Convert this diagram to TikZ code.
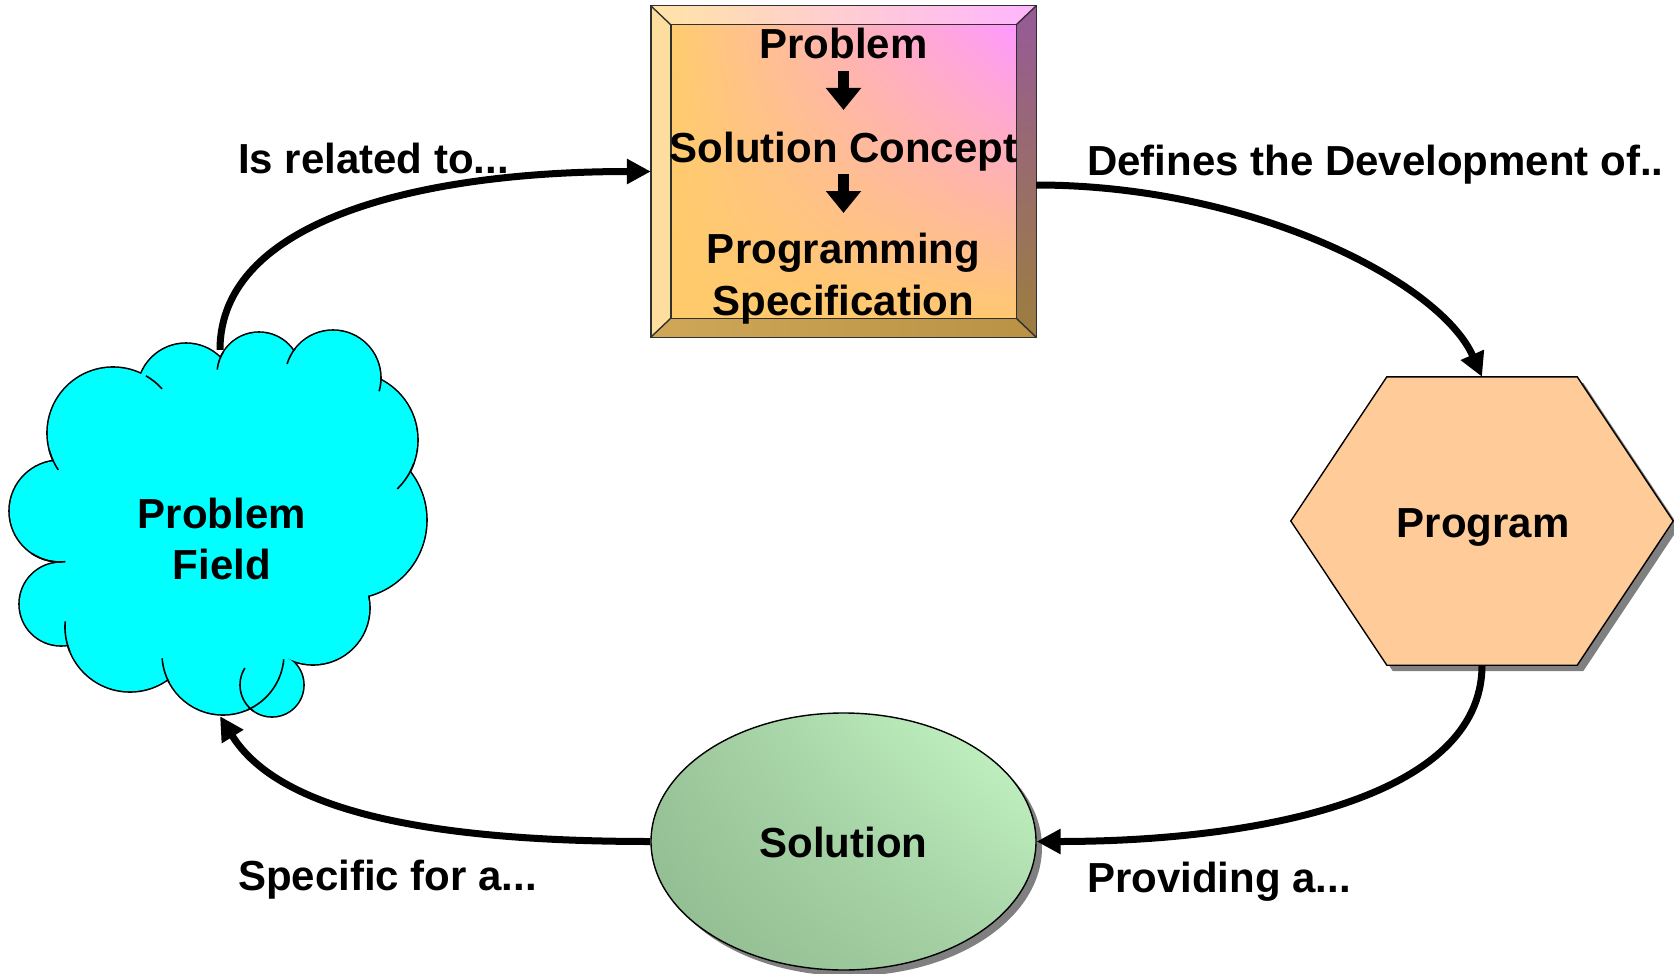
\documentclass[tikz,border=0pt]{standalone}
\usepackage{fontspec}
\setmainfont{Liberation Sans}
\usetikzlibrary{arrows.meta, calc, shapes.geometric, shadows, shadings}

\definecolor{cloudcyan}{HTML}{00FFFF}
\definecolor{hexfill}{HTML}{FFCC99}
\definecolor{shadowgray}{HTML}{808080}
\definecolor{bevtopL}{HTML}{FFE4A6}
\definecolor{bevtopR}{HTML}{FFB5FF}
\definecolor{bevleft}{HTML}{FEDE9F}
\definecolor{bevrightT}{HTML}{965A98}
\definecolor{bevrightB}{HTML}{9C7E3E}
\definecolor{bevbotL}{HTML}{CFA757}
\definecolor{bevbotR}{HTML}{B99245}
\definecolor{specUL}{HTML}{FFCC6E}
\definecolor{specUR}{HTML}{FF99FF}
\definecolor{specLL}{HTML}{FFCA6A}
\definecolor{specLR}{HTML}{FFC870}
\definecolor{solUL}{HTML}{9CC79C}
\definecolor{solUR}{HTML}{C8FAC8}
\definecolor{solLL}{HTML}{8FBA8F}
\definecolor{solLR}{HTML}{A6D2A6}
\definecolor{edgegray}{HTML}{303030}

\begin{document}
\begin{tikzpicture}[x=1pt, y=-1pt,
  lbl/.style={font=\bfseries\fontsize{42}{50}\selectfont, inner sep=0pt, text=black},
  holder/.style={rectangle, inner sep=0pt},
  conn/.style={line width=7pt, -{Triangle[length=24pt, width=24pt]}},
  innerarrow/.style={line width=11pt, -{Triangle[length=22pt, width=34pt]}},
  cloudline/.style={line width=1.6pt, black},
  boxline/.style={line width=1.4pt, edgegray},
  softshadow/.style={drop shadow={shadow xshift=6pt, shadow yshift=-6pt, fill=shadowgray, opacity=1}}
]
\fill[white] (0,0) rectangle (1674,974);
\useasboundingbox (0,0) rectangle (1674,974);

% ---------- bevelled specification box ----------
\node[holder, minimum width=385pt, minimum height=331pt] (spec) at (843.5,171.5) {};
\coordinate (oa) at (spec.north west);
\coordinate (ob) at (spec.north east);
\coordinate (oc) at (spec.south east);
\coordinate (od) at (spec.south west);
\coordinate (ia) at ($(oa)+(20,19)$);
\coordinate (ib) at ($(ob)+(-20,19)$);
\coordinate (ic) at ($(oc)+(-20,-19)$);
\coordinate (id) at ($(od)+(20,-19)$);
\shade[left color=bevtopL, right color=bevtopR] (oa) -- (ob) -- (ib) -- (ia) -- cycle;
\fill[bevleft] (oa) -- (ia) -- (id) -- (od) -- cycle;
\shade[top color=bevrightT, bottom color=bevrightB] (ob) -- (oc) -- (ic) -- (ib) -- cycle;
\shade[left color=bevbotL, right color=bevbotR] (od) -- (id) -- (ic) -- (oc) -- cycle;
\shade[upper left=specUL, upper right=specUR, lower left=specLL, lower right=specLR] (ia) rectangle (ic);
\draw[boxline] (oa) rectangle (oc);
\draw[boxline] (ia) rectangle (ic);
\draw[boxline] (oa) -- (ia) (ob) -- (ib) (oc) -- (ic) (od) -- (id);

\node[lbl, anchor=base] (t1) at (843.5,59) {Problem};
\node[lbl, anchor=base] (t2) at (843.5,162) {Solution Concept};
\node[lbl, anchor=base] (t3) at (843.5,263) {Programming};
\node[lbl, anchor=base] (t4) at (843.5,315) {Specification};
\coordinate (d1a) at (843.5,71);
\coordinate (d1b) at (843.5,110);
\coordinate (d2a) at (843.5,174);
\coordinate (d2b) at (843.5,213);
\draw[innerarrow] (d1a) -- (d1b);
\draw[innerarrow] (d2a) -- (d2b);

% ---------- cloud (problem field) ----------
\node[holder, minimum width=420pt, minimum height=366pt] (field) at (220,533) {};
\def\puffs{113/433/66, 186/392/49, 259/374/42, 333/378/48, 350/440/68, 348/520/79, 313/608/57, 272/685/32, 223/654/61, 130/627/65, 61/604/42, 60/511/51}
\foreach \cx/\cy/\cr in \puffs { \fill[black] (\cx,\cy) circle[radius=\cr+0.8]; }
\fill[cloudcyan] (113,433) -- (186,392) -- (259,374) -- (333,378) -- (350,440) -- (348,520)
  -- (313,608) -- (272,685) -- (223,654) -- (130,627) -- (61,604) -- (60,511) -- cycle;
\foreach \cx/\cy/\cr in \puffs { \fill[cloudcyan] (\cx,\cy) circle[radius=\cr-0.8]; }
% inner puff strokes
\draw[cloudline] (113,433) ++(165:66) arc[start angle=165, end angle=146, radius=66];
\draw[cloudline] (113,433) ++(-60:66) arc[start angle=-60, end angle=-42, radius=66];
\draw[cloudline] (259,374) ++(212:42) arc[start angle=212, end angle=186, radius=42];
\draw[cloudline] (333,378) ++(218:48) arc[start angle=218, end angle=197, radius=48];
\draw[cloudline] (333,378) ++(-2:48) arc[start angle=-2, end angle=16, radius=48];
\draw[cloudline] (350,440) ++(20:68) arc[start angle=20, end angle=46, radius=68];
\draw[cloudline] (272,685) ++(125:32) arc[start angle=125, end angle=212, radius=32];
\draw[cloudline] (223,654) ++(5:61) arc[start angle=5, end angle=66, radius=61];
\draw[cloudline] (223,654) ++(152:61) arc[start angle=152, end angle=176, radius=61];
\draw[cloudline] (130,627) ++(158:65) arc[start angle=158, end angle=185, radius=65];
\draw[cloudline] (60,511) ++(124:51) arc[start angle=124, end angle=84, radius=51];
\node[lbl, anchor=base] (fieldA) at (222,528) {Problem};
\node[lbl, anchor=base] (fieldB) at (222,579) {Field};

% ---------- hexagon (program) ----------
\node[holder, minimum width=382pt, minimum height=288pt] (prog) at (1482,521) {};
\draw[line width=1.4pt, black, fill=hexfill, softshadow]
  (prog.west) -- ($(prog.north west)+(96,0)$) -- ($(prog.north east)+(-96,0)$) -- (prog.east)
  -- ($(prog.south east)+(-96,0)$) -- ($(prog.south west)+(96,0)$) -- cycle;
\node[lbl, anchor=base] (progtxt) at (1483,537) {Program};

% ---------- ellipse (solution) ----------
\node[ellipse, draw=black, line width=1.4pt, minimum width=385pt, minimum height=257pt, inner sep=0pt,
  softshadow, upper left=solUL, upper right=solUR, lower left=solLL, lower right=solLR] (sol) at (843.5,841.5) {};
\node[lbl, anchor=base] (soltxt) at (843.5,857) {Solution};

% ---------- connectors ----------
\draw[conn] (field.north) .. controls +(0,-130) and +(-230,0) .. (spec.west);
\draw[conn] ($(spec.east)+(0,13.5)$) .. controls +(215,0) and +(-42,-95) .. (prog.north);
\draw[conn] (prog.south) .. controls +(0,135) and +(215,0) .. (sol.east);
\draw[conn] (sol.west) .. controls +(-211,0) and +(61,98) .. (field.south);

% ---------- connector labels ----------
\node[lbl, anchor=base west] (lab1) at (238,173) {Is related to...};
\node[lbl, anchor=base west] (lab2) at (1087,175) {Defines the Development of..};
\node[lbl, anchor=base west] (lab3) at (238,890) {Specific for a...};
\node[lbl, anchor=base west] (lab4) at (1087,892) {Providing a...};
\end{tikzpicture}
\end{document}
